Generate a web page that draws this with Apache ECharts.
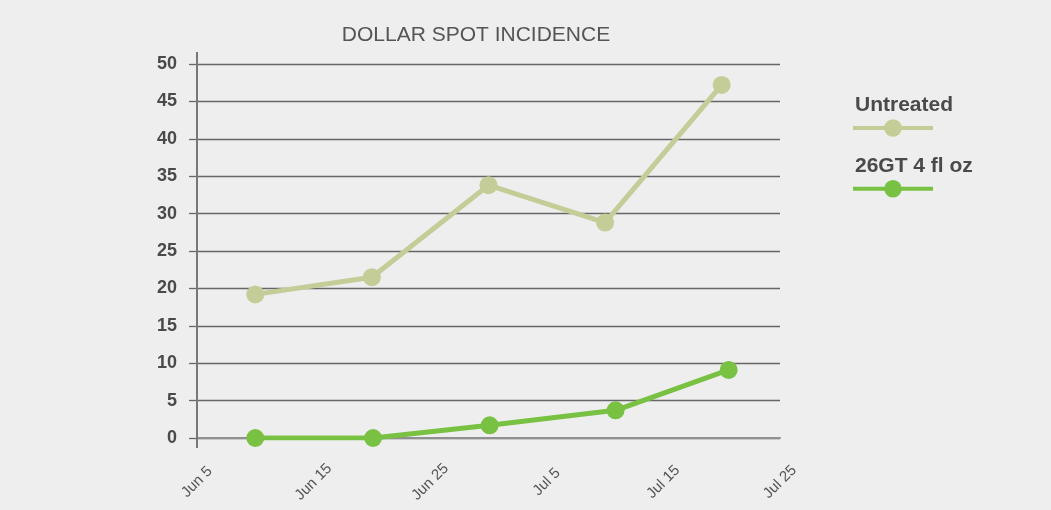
<!DOCTYPE html>
<html>
<head>
<meta charset="utf-8">
<script src="https://cdn.jsdelivr.net/npm/echarts@6/dist/echarts.min.js"></script>
<style>
  html, body { margin: 0; padding: 0; background: #eeeeee; }
  #main { width: 1051px; height: 510px; }
</style>
</head>
<body>
<div id="main"></div>
<script>
// x values are days after Jun 5
var tickLabels = ['Jun 5', 'Jun 15', 'Jun 25', 'Jul 5', 'Jul 15', 'Jul 25'];
var seriesNames = ['Untreated', '26GT 4 fl oz'];
var untreatedDays = [5, 15, 25, 35, 45];
var untreatedValues = [19.2, 21.5, 33.8, 28.8, 47.2];
var treatedDays = [5, 15.1, 25.1, 35.9, 45.6];
var treatedValues = [0, 0, 1.7, 3.7, 9.1];

function pairs(xs, ys) {
    return xs.map(function (x, i) { return [x, ys[i]]; });
}

var myChart = echarts.init(document.getElementById('main'));

var option = {
    backgroundColor: '#eeeeee',
    title: {
        text: 'DOLLAR SPOT INCIDENCE',
        left: 471,
        top: 20,
        textAlign: 'center',
        textStyle: {
            fontFamily: 'Liberation Sans',
            fontSize: 21,
            fontWeight: 'normal',
            color: '#555555'
        }
    },
    // icons sit under the names, so two legends: one for icons, one for names
    legend: [
        {
            orient: 'vertical',
            left: 846,
            top: 112,
            itemWidth: 80,
            itemHeight: 22,
            itemGap: 41,
            lineStyle: { width: 4 },
            formatter: function () { return ''; },
            data: seriesNames
        },
        {
            orient: 'vertical',
            left: 845,
            top: 90,
            icon: 'rect',
            itemWidth: 0,
            itemHeight: 0,
            itemGap: 40,
            itemStyle: { opacity: 0 },
            textStyle: {
                fontFamily: 'Liberation Sans',
                fontSize: 21,
                fontWeight: 'bold',
                color: '#4a4a4a'
            },
            data: seriesNames
        }
    ],
    grid: {
        left: 197,
        right: 271,
        top: 64,
        bottom: 72
    },
    xAxis: {
        type: 'value',
        min: 0,
        max: 50,
        interval: 10,
        axisLine: { show: true, lineStyle: { color: '#909090', width: 2 } },
        axisTick: { show: false },
        splitLine: { show: false },
        axisLabel: {
            rotate: 45,
            align: 'center',
            verticalAlign: 'middle',
            margin: 44,
            fontFamily: 'Liberation Sans',
            fontSize: 15,
            color: '#555555',
            formatter: function (v) { return tickLabels[Math.round(v / 10)]; }
        }
    },
    yAxis: {
        type: 'value',
        min: 0,
        max: 50,
        interval: 5,
        axisLine: { show: true, lineStyle: { color: '#777777', width: 2 } },
        axisTick: { show: true, length: 8, lineStyle: { color: '#666666', width: 1.3 } },
        splitLine: { show: true, lineStyle: { color: '#666666', width: 1.3 } },
        axisLabel: {
            margin: 20,
            fontFamily: 'Liberation Sans',
            fontSize: 18,
            fontWeight: 'bold',
            color: '#4a4a4a'
        }
    },
    graphic: [
        {
            type: 'line',
            shape: { x1: 197, y1: 52, x2: 197, y2: 448 },
            style: { stroke: '#777777', lineWidth: 2 },
            z: 1
        }
    ],
    series: [
        {
            name: seriesNames[0],
            type: 'line',
            data: pairs(untreatedDays, untreatedValues),
            symbol: 'circle',
            symbolSize: 18,
            color: '#c4cd97',
            lineStyle: { width: 5 },
            z: 3
        },
        {
            name: seriesNames[1],
            type: 'line',
            data: pairs(treatedDays, treatedValues),
            symbol: 'circle',
            symbolSize: 18,
            color: '#79c143',
            lineStyle: { width: 5 },
            z: 4
        }
    ]
};

myChart.setOption(option);
</script>
</body>
</html>
